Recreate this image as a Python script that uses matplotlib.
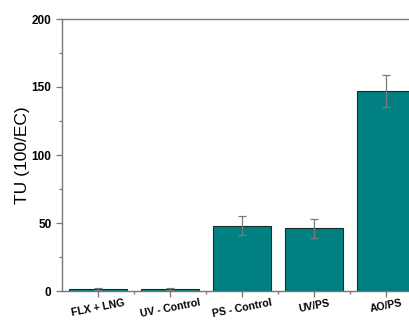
import numpy as np
import matplotlib.pyplot as plt
from matplotlib.ticker import MultipleLocator, FixedLocator

plt.rcParams['font.family'] = ['Liberation Sans', 'DejaVu Sans']

# Данные
categories = ['FLX + LNG', 'UV - Control', 'PS - Control', 'UV/PS', 'AO/PS']
tu_values = [1.5, 1.5, 48, 46, 147]
tu_errors = [1.0, 0.8, 7, 7, 12]

fig = plt.figure(figsize=(4.09, 3.2), dpi=100)
ax = fig.add_axes([62 / 409, 29 / 320, 360 / 409, 272 / 320])

x = np.arange(len(categories))
ax.bar(x, tu_values, width=0.8, color='#008080', edgecolor='#1a2a2a', linewidth=0.8, zorder=2)
ax.errorbar(x, tu_values, yerr=tu_errors, fmt='none', ecolor='#7a7a7a',
            elinewidth=0.9, capsize=3, capthick=0.9, zorder=3)

ax.set_xlim(-0.5, 4.5)
ax.set_ylim(0, 200)
ax.yaxis.set_major_locator(MultipleLocator(50))
ax.yaxis.set_minor_locator(MultipleLocator(25))
ax.set_xticks(x)
ax.xaxis.set_minor_locator(FixedLocator(x[:-1] + 0.5))
ax.set_xticklabels(categories, rotation=11, fontsize=7.6, fontweight='bold')
for lbl in ax.get_yticklabels():
    lbl.set_fontweight('bold')
    lbl.set_fontsize(8.5)
ax.tick_params(axis='both', which='major', length=4, color='#777777', width=0.9)
ax.tick_params(axis='both', which='minor', length=2.5, color='#777777', width=0.9)
ax.tick_params(axis='x', pad=1)
for s in ax.spines.values():
    s.set_color('#777777')
    s.set_linewidth(1.0)

ax.set_ylabel('TU (100/EC)', fontsize=12.5, labelpad=1)

plt.savefig('out.png', dpi=100)
